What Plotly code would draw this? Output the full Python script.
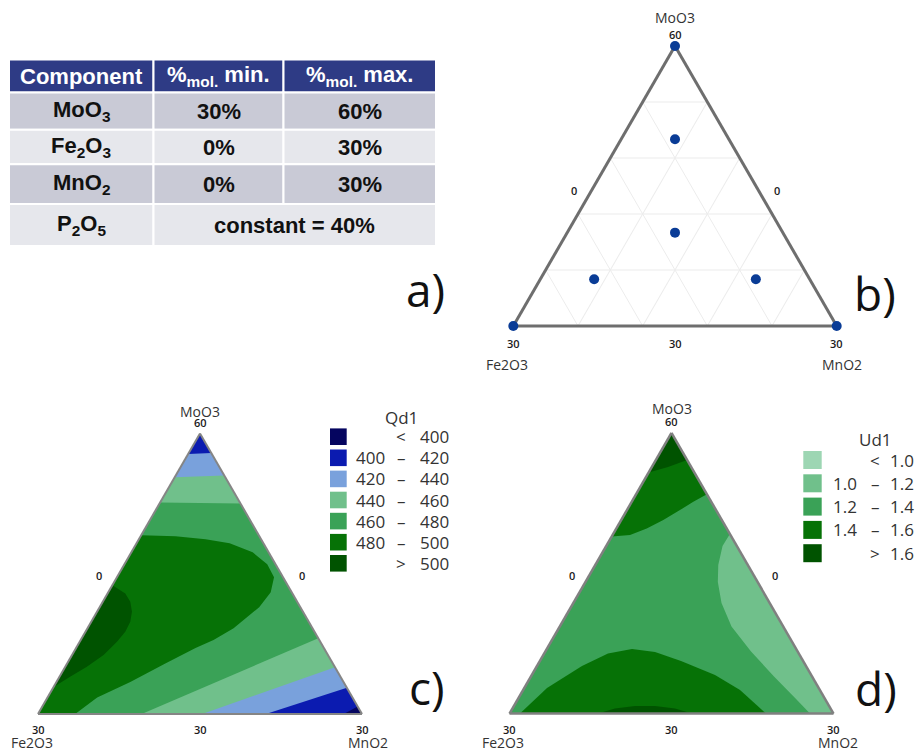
import plotly.graph_objects as go

W, H = 917, 751

# ---------------- (a) composition table ----------------
table_header = ["Component", "%<sub>mol.</sub> min.", "%<sub>mol.</sub> max."]
table_components = ["MoO<sub>3</sub>", "Fe<sub>2</sub>O<sub>3</sub>", "MnO<sub>2</sub>"]
table_min = ["30%", "0%", "0%"]
table_max = ["60%", "30%", "30%"]
table_const_component = "P<sub>2</sub>O<sub>5</sub>"
table_const_text = "constant = 40%"

# ---------------- (b) design points (mol %) ----------------
design_moo3 = [60, 30, 30, 40, 50, 35, 35]
design_fe2o3 = [0, 30, 0, 10, 5, 20, 5]
design_mno2 = [0, 0, 30, 10, 5, 5, 20]

# ---------------- (c) Qd1 contour bands ----------------
qd1_left = ["", "400", "420", "440", "460", "480", ""]
qd1_ops = ["<", "–", "–", "–", "–", "–", ">"]
qd1_right = ["400", "420", "440", "460", "480", "500", "500"]
qd1_colors = ["#05055f", "#0b1bb0", "#79a1dc", "#70c08b", "#3aa257", "#067206", "#005300"]
qd1_background_band = 4  # 460 - 480

# boundary points (MoO3, Fe2O3, MnO2)
qd1_top_440_460 = [(52.6, 7.4, 0), (52.5, 0, 7.5), (60, 0, 0)]
qd1_top_420_440 = [(55.3, 4.7, 0), (55.5, 0, 4.5), (60, 0, 0)]
qd1_top_400_420 = [(57.8, 2.2, 0), (57.9, 0, 2.1), (60, 0, 0)]
qd1_corner_440_460 = [(38.1, 0, 21.9), (30, 0, 30), (30, 20.4, 9.6)]
qd1_corner_420_440 = [(35.0, 0, 25.0), (30, 0, 30), (30, 14.8, 15.2)]
qd1_corner_400_420 = [(32.8, 0, 27.2), (30, 0, 30), (30, 8.9, 21.1)]
qd1_corner_below_400 = [(30.8, 0, 29.2), (30, 0, 30), (30, 1.7, 28.3)]
qd1_480_500 = [(49.1, 10.9, 0), (49.0, 7.77, 3.22), (48.68, 5.15, 6.17), (48.26, 3.13, 8.61),
               (47.30, 1.48, 11.23), (46.01, 0.77, 13.22), (44.63, 0.83, 14.54), (43.03, 1.94, 15.04),
               (41.42, 3.81, 14.77), (39.18, 7.30, 13.52), (37.90, 9.80, 12.30), (37.05, 11.89, 11.06),
               (35.34, 15.63, 9.03), (33.42, 19.75, 6.84), (31.76, 23.64, 4.60), (30, 26.56, 3.44),
               (30, 30, 0)]
qd1_above_500 = [(43.77, 16.23, 0), (42.89, 15.48, 1.64), (41.99, 15.46, 2.55), (40.92, 15.84, 3.24),
                 (39.86, 16.53, 3.62), (38.79, 17.53, 3.69), (37.72, 18.83, 3.45), (36.30, 20.78, 2.92),
                 (35.05, 22.95, 2.00), (33.98, 25.04, 0.98), (32.88, 27.12, 0)]
qd1_regions = [(qd1_top_440_460, 3), (qd1_top_420_440, 2), (qd1_top_400_420, 1),
               (qd1_corner_440_460, 3), (qd1_corner_420_440, 2), (qd1_corner_400_420, 1),
               (qd1_corner_below_400, 0), (qd1_480_500, 5), (qd1_above_500, 6)]

# ---------------- (d) Ud1 contour bands ----------------
ud1_left = ["", "1.0", "1.2", "1.4", ""]
ud1_ops = ["<", "–", "–", "–", ">"]
ud1_right = ["1.0", "1.2", "1.4", "1.6", "1.6"]
ud1_colors = ["#9dd6b3", "#70c08b", "#3aa257", "#067206", "#005300"]
ud1_background_band = 2  # 1.2 - 1.4

ud1_top_14_16 = [(48.92, 11.08, 0), (49.08, 9.30, 1.62), (49.80, 7.40, 2.81), (50.69, 5.42, 3.90),
                 (51.76, 3.34, 4.91), (52.64, 1.66, 5.70), (53.44, 0, 6.56), (60, 0, 0)]
ud1_top_above_16 = [(55.77, 4.23, 0), (56.35, 2.15, 1.50), (57.10, 0, 2.90), (60, 0, 0)]
ud1_side_10_12 = [(49.19, 0, 10.81), (47.91, 1.32, 10.77), (45.88, 2.73, 11.39), (44.06, 3.68, 12.26),
                  (41.81, 4.46, 13.72), (39.30, 4.79, 15.90), (36.63, 4.32, 19.05), (33.96, 3.53, 22.51),
                  (31.55, 2.69, 25.75), (30, 2.18, 27.82), (30, 0, 30)]
ud1_base_14_16 = [(30, 29.03, 0.97), (32.73, 25.16, 2.11), (35.08, 20.75, 4.17), (36.41, 17.67, 5.91),
                  (36.90, 15.21, 7.89), (36.58, 13.24, 10.19), (35.61, 11.31, 13.07), (34.12, 8.91, 16.97),
                  (32.51, 7.40, 20.09), (30, 6.25, 23.75)]
ud1_base_above_16 = [(30, 21.81, 8.19), (30.53, 19.97, 9.50), (30.80, 17.98, 11.22), (30.80, 16.13, 13.07),
                     (30.53, 14.41, 15.06), (30, 13.10, 16.90)]
ud1_regions = [(ud1_top_14_16, 3), (ud1_top_above_16, 4), (ud1_side_10_12, 1),
               (ud1_base_14_16, 3), (ud1_base_above_16, 4)]

# ---------------- helpers (window pixel -> paper) ----------------
def px(x):
    return x / W


def py(y):
    return 1 - y / H


fig = go.Figure()


def add_region(pts, color, subplot):
    fig.add_trace(go.Scatterternary(
        a=[p[0] for p in pts], b=[p[1] for p in pts], c=[p[2] for p in pts],
        mode="lines", fill="toself", fillcolor=color,
        line=dict(width=0, color=color), hoverinfo="skip",
        showlegend=False, subplot=subplot))


for pts, k in qd1_regions:
    add_region(pts, qd1_colors[k], "ternary2")
for pts, k in ud1_regions:
    add_region(pts, ud1_colors[k], "ternary3")

fig.add_trace(go.Scatterternary(
    a=design_moo3, b=design_fe2o3, c=design_mno2, mode="markers",
    marker=dict(size=10, color="#0a3c96"), cliponaxis=False,
    showlegend=False, subplot="ternary"))


def ternary(x0, x1, ybase, bg, grid, linecolor, linewidth, layer):
    side = x1 - x0
    ytop = ybase - side * 3 ** 0.5 / 2
    common = dict(showticklabels=False, ticks="", showline=True, linecolor=linecolor,
                  linewidth=linewidth, showgrid=grid, gridcolor="#ececec", gridwidth=1,
                  layer=layer, title=dict(text=""))
    return dict(sum=60, bgcolor=bg,
                domain=dict(x=[px(x0), px(x1)], y=[py(ybase), py(ytop)]),
                aaxis=dict(min=30, tickvals=[36, 42, 48, 54], **common),
                baxis=dict(min=0, tickvals=[6, 12, 18, 24], **common),
                caxis=dict(min=0, tickvals=[6, 12, 18, 24], **common))


shapes = []
annotations = []


def ann(text, x, y, size, color="#222", family="Open Sans", xanchor="center", weight="normal"):
    annotations.append(dict(text=text, x=px(x), y=py(y), xref="paper", yref="paper",
                            xanchor=xanchor, yanchor="middle", showarrow=False,
                            font=dict(size=size, color=color, family=family, weight=weight)))


def rect(x0, y0, x1, y1, color, lw=0, lc="white"):
    shapes.append(dict(type="rect", xref="paper", yref="paper", x0=px(x0), x1=px(x1),
                       y0=py(y1), y1=py(y0), fillcolor=color,
                       line=dict(width=lw, color=lc), layer="below"))


# ---- table drawing ----
col_x = [9, 153.5, 283.5, 436]
row_y = [59.5, 92.5, 129.7, 164.3, 204, 246]
row_fill = ["#2e3b85", "#c9cad6", "#e6e7ec", "#c9cad6", "#e6e7ec"]
tfont = "Liberation Sans"
TS = 22
for r in range(5):
    if r < 4:
        for c in range(3):
            rect(col_x[c], row_y[r], col_x[c + 1], row_y[r + 1], row_fill[r], 2, "white")
    else:
        rect(col_x[0], row_y[r], col_x[1], row_y[r + 1], row_fill[r], 2, "white")
        rect(col_x[1], row_y[r], col_x[3], row_y[r + 1], row_fill[r], 2, "white")
for c in range(3):
    ann("<b>%s</b>" % table_header[c], (col_x[c] + col_x[c + 1]) / 2,
        (row_y[0] + row_y[1]) / 2, TS, "white", tfont)
for r in range(3):
    yc = (row_y[r + 1] + row_y[r + 2]) / 2
    ann("<b>%s</b>" % table_components[r], (col_x[0] + col_x[1]) / 2, yc, TS, "#111", tfont)
    ann("<b>%s</b>" % table_min[r], (col_x[1] + col_x[2]) / 2, yc, TS, "#111", tfont)
    ann("<b>%s</b>" % table_max[r], (col_x[2] + col_x[3]) / 2, yc, TS, "#111", tfont)
yc = (row_y[4] + row_y[5]) / 2
ann("<b>%s</b>" % table_const_component, (col_x[0] + col_x[1]) / 2, yc, TS, "#111", tfont)
ann("<b>%s</b>" % table_const_text, (col_x[1] + col_x[3]) / 2, yc, TS, "#111", tfont)


# ---- ternary axis labels ----
def tern_labels(xl, xr, top_name_y, top_val_y, zero_y, zl, zr, bot_val_y, bot_name_y,
                fe_x, mn_x, name_size=14):
    xm = (xl + xr) / 2
    ann("MoO3", xm, top_name_y, name_size, "#333")
    ann("60", xm, top_val_y, 11, "#1a1a1a", weight=600)
    ann("0", zl, zero_y, 11, "#1a1a1a", weight=600)
    ann("0", zr, zero_y, 11, "#1a1a1a", weight=600)
    ann("30", xl, bot_val_y, 11, "#1a1a1a", weight=600)
    ann("30", xm, bot_val_y, 11, "#1a1a1a", weight=600)
    ann("30", xr, bot_val_y, 11, "#1a1a1a", weight=600)
    ann("Fe2O3", fe_x, bot_name_y, name_size, "#333")
    ann("MnO2", mn_x, bot_name_y, name_size, "#333")


tern_labels(513.3, 836.7, 18, 34.5, 190, 574.3, 776.7, 343.3, 364, 507, 841.7)
tern_labels(38, 362, 411.5, 422.5, 575, 99, 302.3, 729.5, 742.5, 31.7, 367.5)
tern_labels(509.5, 833.5, 408, 421, 575.7, 571.7, 775, 729.5, 742.5, 503.3, 838.3)

# ---- legends ----
ann("Qd1", 401.7, 417.7, 17, "#333")
for i in range(len(qd1_colors)):
    y = 436.7 + i * 21.1
    rect(330, y - 8.3, 346.7, y + 8.3, qd1_colors[i])
    if qd1_left[i]:
        ann(qd1_left[i], 387, y, 17, "#333", xanchor="right")
    ann(qd1_ops[i], 401, y, 17, "#333")
    ann(qd1_right[i], 450.5, y, 17, "#333", xanchor="right")

ann("Ud1", 875, 440, 17, "#333")
for i in range(len(ud1_colors)):
    y = 460 + i * 23.3
    rect(803.3, y - 9, 821.7, y + 9, ud1_colors[i])
    if ud1_left[i]:
        ann(ud1_left[i], 858.5, y, 17, "#333", xanchor="right")
    ann(ud1_ops[i], 875, y, 17, "#333")
    ann(ud1_right[i], 915.5, y, 17, "#333", xanchor="right")

# ---- panel letters ----
ann("a)", 425, 289, 46, "#111")
ann("b)", 875, 293, 46, "#111")
ann("c)", 427, 687, 46, "#111")
ann("d)", 876, 688, 46, "#111")

fig.update_layout(
    width=W, height=H, margin=dict(l=0, r=0, t=0, b=0),
    paper_bgcolor="white", plot_bgcolor="white", showlegend=False,
    ternary=ternary(513.3, 836.7, 326, "white", True, "#6e6e6e", 3, "below traces"),
    ternary2=ternary(38, 362, 714, qd1_colors[qd1_background_band], False, "#858585", 2, "above traces"),
    ternary3=ternary(509.5, 833.5, 713.5, ud1_colors[ud1_background_band], False, "#808080", 2.5, "above traces"),
    shapes=shapes, annotations=annotations,
)

# remove the browser's default 8px page margin so the 917x751 figure fills the window
fig.write_html("out.html", config={"displayModeBar": False},
               post_script="document.body.style.margin='0px';document.body.style.overflow='hidden';")
